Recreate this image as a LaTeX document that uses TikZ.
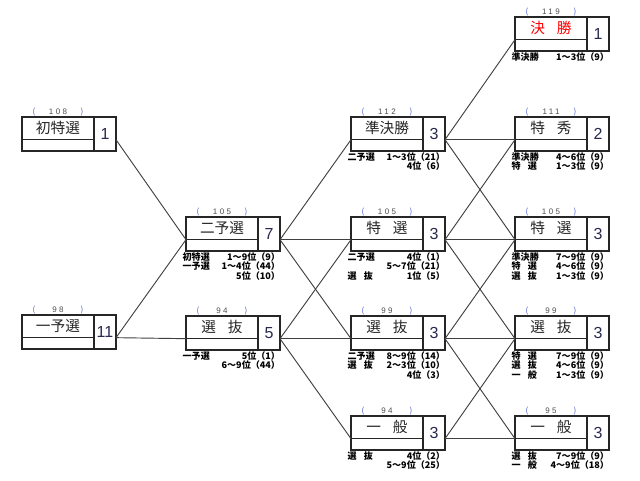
\documentclass[tikz,border=0pt]{standalone}
\usepackage{fontspec}
\setmainfont{Noto Sans CJK JP}
\newfontfamily\numfont{Liberation Sans}
\newfontfamily\labelfont[LetterSpace=30]{Liberation Sans}
\usetikzlibrary{positioning}
\definecolor{parblue}{RGB}{70,90,200}
\definecolor{numnavy}{RGB}{40,40,80}
\newcommand\entrants[1]{\makebox[38pt]{\textcolor{parblue}{(}\hfill{\labelfont #1}\hfill\textcolor{parblue}{)}}}

\begin{document}
\begin{tikzpicture}[x=0.75pt, y=-0.75pt, inner sep=0pt, outer sep=0pt]
	\tikzset{cell/.style={draw=black!85, line width=1.1pt, rectangle}}
	\tikzstyle{namecell}=[cell, minimum width=54pt, minimum height=17pt, font=\fontsize{11}{12}\selectfont, text=black!85]
	\tikzstyle{stripcell}=[cell, minimum width=54pt, minimum height=8.5pt]
	\tikzstyle{numcell}=[cell, minimum width=16.5pt, minimum height=25.5pt, font=\numfont\fontsize{12}{14}\selectfont, text=numnavy]
	\tikzstyle{countlabel}=[font=\fontsize{6}{7}\selectfont, text=black!70, inner sep=0.5pt]
	\tikzstyle{notetext}=[font=\bfseries\fontsize{6.8}{7.1}\selectfont, text width=73pt, anchor=north east, yshift=-1.2pt]
	\tikzstyle{wire}=[draw=black!75, line width=0.7pt]

	\useasboundingbox (0,0) rectangle (640,480);

	%BOXES
	\foreach \id/\x/\y/\txt/\lab/\num in {
		shotoku/22/117/初特選/108/1,
		ichiyo/22/315/一予選/98/11,
		niyo/186/217/二予選/105/7,
		senA/186/316/選\hspace{0.8em}抜/94/5,
		junk/351/117/準決勝/112/3,
		tokuB/351/217/特\hspace{0.8em}選/105/3,
		senB/351/316/選\hspace{0.8em}抜/99/3,
		ippanB/351/416/一\hspace{0.8em}般/94/3,
		kessho/515/17/{\textcolor{red}{決\hspace{0.8em}勝}}/119/1,
		tokushu/515/117/特\hspace{0.8em}秀/111/2,
		tokuC/515/217/特\hspace{0.8em}選/105/3,
		senC/515/316/選\hspace{0.8em}抜/99/3,
		ippanC/515/416/一\hspace{0.8em}般/95/3}{
		\node[namecell, anchor=north west] (\id) at (\x,\y) {\txt};
		\node[stripcell, below=0pt of \id] (\id-s) {};
		\node[numcell, anchor=north west] (\id-n) at (\id.north east) {\num};
		\node[countlabel, above=0.5pt of \id] (\id-c) {\entrants{\lab}};
		\coordinate (\id-in) at (\id.south west);
		\coordinate (\id-out) at (\id-n.east |- \id.south);
	}

	%NOTES
	\node[notetext] (niyo-t) at (niyo-n.south east) {初特選\hfill 1～9位（9）\\一予選\hfill 1～4位（44）\\\hspace*{\fill}5位（10）};
	\node[notetext] (senA-t) at (senA-n.south east) {一予選\hfill 5位（1）\\\hspace*{\fill}6～9位（44）};
	\node[notetext] (junk-t) at (junk-n.south east) {二予選\hfill 1～3位（21）\\\hspace*{\fill}4位（6）};
	\node[notetext] (tokuB-t) at (tokuB-n.south east) {二予選\hfill 4位（1）\\\hspace*{\fill}5～7位（21）\\選\hspace{0.8em}抜\hfill 1位（5）};
	\node[notetext] (senB-t) at (senB-n.south east) {二予選\hfill 8～9位（14）\\選\hspace{0.8em}抜\hfill 2～3位（10）\\\hspace*{\fill}4位（3）};
	\node[notetext] (ippanB-t) at (ippanB-n.south east) {選\hspace{0.8em}抜\hfill 4位（2）\\\hspace*{\fill}5～9位（25）};
	\node[notetext] (kessho-t) at (kessho-n.south east) {準決勝\hfill 1～3位（9）};
	\node[notetext] (tokushu-t) at (tokushu-n.south east) {準決勝\hfill 4～6位（9）\\特\hspace{0.8em}選\hfill 1～3位（9）};
	\node[notetext] (tokuC-t) at (tokuC-n.south east) {準決勝\hfill 7～9位（9）\\特\hspace{0.8em}選\hfill 4～6位（9）\\選\hspace{0.8em}抜\hfill 1～3位（9）};
	\node[notetext] (senC-t) at (senC-n.south east) {特\hspace{0.8em}選\hfill 7～9位（9）\\選\hspace{0.8em}抜\hfill 4～6位（9）\\一\hspace{0.8em}般\hfill 1～3位（9）};
	\node[notetext] (ippanC-t) at (ippanC-n.south east) {選\hspace{0.8em}抜\hfill 7～9位（9）\\一\hspace{0.8em}般\hfill 4～9位（18）};

	%LINKS
	\foreach \a/\b in {shotoku/niyo, ichiyo/niyo, ichiyo/senA,
		niyo/junk, niyo/tokuB, niyo/senB, senA/tokuB, senA/senB, senA/ippanB,
		junk/kessho, junk/tokushu, junk/tokuC, tokuB/tokushu, tokuB/tokuC, tokuB/senC,
		senB/tokuC, senB/senC, senB/ippanC, ippanB/senC, ippanB/ippanC}
		\draw[wire] (\a-out) -- (\b-in);
\end{tikzpicture}
\end{document}
